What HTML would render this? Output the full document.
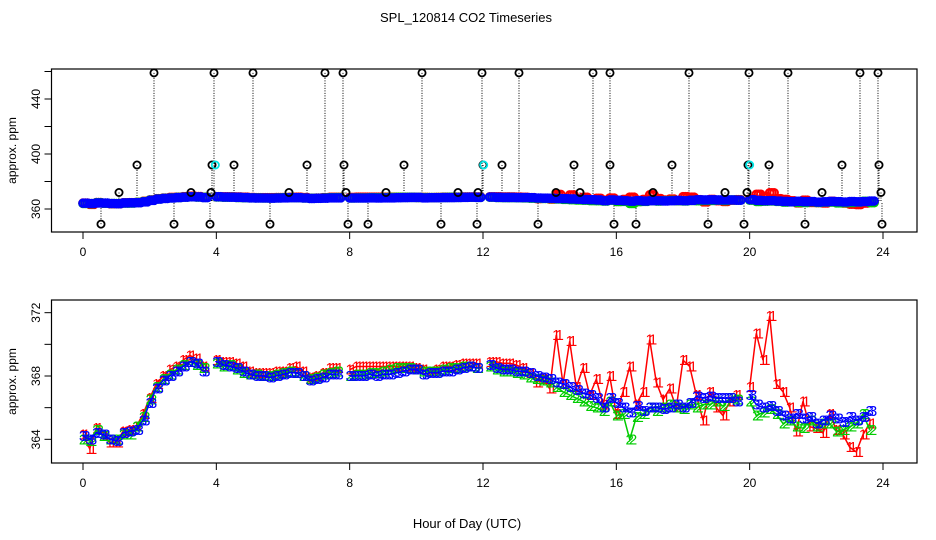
<!DOCTYPE html>
<html><head><meta charset="utf-8"><style>
html,body{margin:0;padding:0;background:#fff}
svg{display:block;font-family:"Liberation Sans",sans-serif}
</style></head><body>
<svg id="chart" width="936" height="540" viewBox="0 0 936 540" xmlns="http://www.w3.org/2000/svg">
<text x="466" y="22" font-size="13" text-anchor="middle">SPL_120814  CO2 Timeseries</text>
<g id="top"></g>
<g id="bot"></g>
<text x="467" y="528" font-size="13" text-anchor="middle">Hour of Day (UTC)</text>
</svg>
<script>
const step = 0.2;
const blue = [
364.2,364.0,364.4,364.3,364.0, 363.9,364.4,364.5,364.6,365.2,
366.3,367.2,367.7,368.0,368.3, 368.6,368.9,368.8,368.3,null,
368.9,368.7,368.6,368.5,368.3, 368.1,368.0,368.0,367.9,368.0,
368.1,368.2,368.2,368.0,367.7, 367.8,367.9,368.1,368.1,null,
368.0,368.0,368.0,368.1,368.0, 368.1,368.1,368.2,368.3,368.4,
368.4,368.1,368.2,368.2,368.3, 368.3,368.4,368.5,368.6,368.5,
null,368.7,368.5,368.4,368.4, 368.3,368.3,368.2,368.0,367.9,
367.8,367.6,367.5,367.3,367.1, 366.9,366.8,366.6,366.0,366.6,
366.3,366.0,365.7,366.1,365.8, 366.0,366.0,365.9,366.0,366.2,
366.0,366.3,366.7,366.6,366.7, 366.6,366.6,366.6,366.4,null,
366.8,366.2,366.0,366.1,365.8, 365.5,365.3,365.6,365.3,365.4,
365.0,365.2,365.5,365.3,365.1, 365.4,365.2,365.4,365.8];
const red = [
364.3,363.4,364.7,364.2,363.8, 363.8,364.5,364.6,364.8,365.6,
366.6,367.5,368.0,368.4,368.6, 369.0,369.3,369.1,368.6,null,
369.0,368.9,368.9,368.8,368.6, 368.3,368.2,368.2,368.2,368.3,
368.3,368.5,368.6,368.3,367.9, 368.0,368.2,368.5,368.5,null,
368.4,368.6,368.6,368.6,368.6, 368.6,368.6,368.6,368.6,368.6,
368.5,368.4,368.3,368.4,368.6, 368.6,368.7,368.8,368.8,368.8,
null,368.9,368.9,368.8,368.8, 368.7,368.5,368.2,367.6,367.8,
367.2,370.6,367.5,370.2,367.3, 368.5,366.8,367.8,366.2,368.0,
365.6,367.0,368.6,366.2,367.0, 370.3,367.6,366.5,367.2,366.0,
369.0,368.6,366.8,365.2,367.0, 366.0,365.5,366.4,366.8,null,
367.3,370.7,369.0,371.8,367.5, 367.0,366.0,364.5,366.4,364.8,
364.7,364.4,365.6,364.6,364.3, 363.5,363.2,364.3,365.0];
const green = [
364.0,363.9,364.6,364.2,364.0, 364.0,364.3,364.3,364.8,365.4,
366.5,367.3,367.8,368.1,368.4, 368.7,368.9,368.7,368.5,null,
368.8,368.6,368.7,368.4,368.2, 368.1,368.1,368.0,368.0,368.1,
368.2,368.3,368.2,368.0,367.8, 367.9,368.1,368.2,368.3,null,
368.0,368.1,368.1,368.2,368.2, 368.3,368.4,368.5,368.5,368.5,
368.4,368.3,368.3,368.3,368.4, 368.5,368.5,368.6,368.6,368.5,
null,368.6,368.4,368.3,368.3, 368.2,368.1,367.9,367.8,367.7,
367.6,367.3,367.0,366.8,366.6, 366.4,366.1,366.0,365.8,366.4,
365.5,365.6,364.0,365.4,365.6, 366.0,365.8,366.0,366.2,366.0,
365.9,366.2,366.0,366.2,366.2, 366.4,366.1,366.6,366.5,null,
366.4,365.5,365.7,365.9,365.6, 365.0,365.2,364.8,364.7,365.2,
364.8,365.0,365.0,364.5,364.6, 364.8,365.0,365.6,364.6];
const outlierHours = [2.13,3.93,5.1,7.26,7.8,10.17,11.97,13.08,15.3,15.81,18.18,19.98,21.15,23.31,23.85,
1.62,3.87,4.53,6.72,7.83,9.63,12.0,12.57,14.73,15.81,17.67,19.95,20.58,22.77,23.88,
1.08,3.24,3.84,6.18,7.89,9.09,11.25,11.85,14.19,14.91,17.1,19.26,19.92,22.17,23.94,
0.54,2.73,3.81,5.61,7.95,8.55,10.74,11.82,13.65,15.93,16.59,18.75,19.83,21.66,23.97];
const outlierValues = [459,459,459,459,459,459,459,459,459,459,459,459,459,459,459,
392,392,392,392,392,392,392,392,392,392,392,392,392,392,392,
372,372,372,372,372,372,372,372,372,372,372,372,372,372,372,
349,349,349,349,349,349,349,349,349,349,349,349,349,349,349];
const cyanHours = [3.97,12.02,20.0];
const cyanValues = [392,392,392];
const xTicks = [0,4,8,12,16,20,24];
const topTicks = [360,380,400,420,440,460];
const topLabels = [360,400,440];
const botTicks = [364,366,368,370,372];
const botLabels = [364,368,372];

const NS="http://www.w3.org/2000/svg";
const X = h => 83 + h*33.333;
const YT = v => 209 - (v-360)*1.375;
const YB = v => 376 - (v-368)*15.83;
function mk(tag, parent, attrs){const e=document.createElementNS(NS,tag);for(const k in attrs)e.setAttribute(k,attrs[k]);parent.appendChild(e);return e;}

function frame(g, top, bot, ticks, labels, Y, name){
  const r=mk('rect',g,{x:51.5,y:top,width:865.5,height:bot-top,fill:'none',stroke:'#000','stroke-width':1.2});
  
  
  xTicks.forEach(t=>{
    mk('line',g,{x1:X(t),x2:X(t),y1:bot,y2:bot+7,stroke:'#000'});
    const tx=mk('text',g,{x:X(t),y:bot+24,'font-size':12,'text-anchor':'middle'});
    tx.textContent=t;
    
    
  });
  ticks.forEach(t=>mk('line',g,{x1:44.5,x2:51.5,y1:Y(t),y2:Y(t),stroke:'#000'}));
  labels.forEach(t=>{
    const tx=mk('text',g,{x:0,y:0,'font-size':12,'text-anchor':'middle',transform:`translate(40,${Y(t)}) rotate(-90)`});
    tx.textContent=t;
    
    
  });
  const yt=mk('text',g,{x:0,y:0,'font-size':12,'text-anchor':'middle',transform:`translate(16,${(top+bot)/2}) rotate(-90)`});
  yt.textContent='approx. ppm';
  
  
}

const gt=document.getElementById('top'), gb=document.getElementById('bot');
frame(gt,69,232,topTicks,topLabels,YT,'top');
frame(gb,300,463,botTicks,botLabels,YB,'bottom');

outlierHours.forEach((h,i)=>{
  mk('line',gt,{x1:X(h),x2:X(h),y1:YT(outlierValues[i]),y2:YT(365),stroke:'#000','stroke-width':1,'stroke-dasharray':'1,1.5'});
});
const series=[[red,'#ff0000','1','red'],[green,'#00cc00','2','green'],[blue,'#0000ff','3','blue']];
series.forEach(([arr,col,ch,nm])=>{
  const g=mk('g',gt,{});
  
  
  arr.forEach((v,i)=>{ if(v===null) return;
    for(let k=0;k<3;k++) mk('circle',g,{cx:X(i*step+k*0.067),cy:YT(v),r:3.8,fill:'none',stroke:col,'stroke-width':2});
  });
});
outlierHours.forEach((h,i)=>{
  const c=mk('circle',gt,{cx:X(h),cy:YT(outlierValues[i]),r:3.6,fill:'none',stroke:'#000','stroke-width':1.8});
  
  
});
cyanHours.forEach((h,i)=>{
  const c=mk('circle',gt,{cx:X(h),cy:YT(cyanValues[i]),r:3.6,fill:'none',stroke:'#00e5e5','stroke-width':1.8});
  
  
});

series.forEach(([arr,col,ch,nm])=>{
  const g=mk('g',gb,{});
  
  
  let d='', pen=false;
  arr.forEach((v,i)=>{
    if(v===null){pen=false;return;}
    d+=(pen?'L':'M')+X(i*step).toFixed(1)+','+YB(v).toFixed(1);
    pen=true;
  });
  mk('path',g,{d:d,fill:'none',stroke:col,'stroke-width':1.5});
  arr.forEach((v,i)=>{ if(v===null) return;
    for(let k=0;k<2;k++){
      const t=mk('text',g,{x:X(i*step+k*0.1),y:YB(v)+5,'font-size':15,'text-anchor':'middle',fill:col});
      t.textContent=ch;
    }
  });
});
</script>
</body></html>
